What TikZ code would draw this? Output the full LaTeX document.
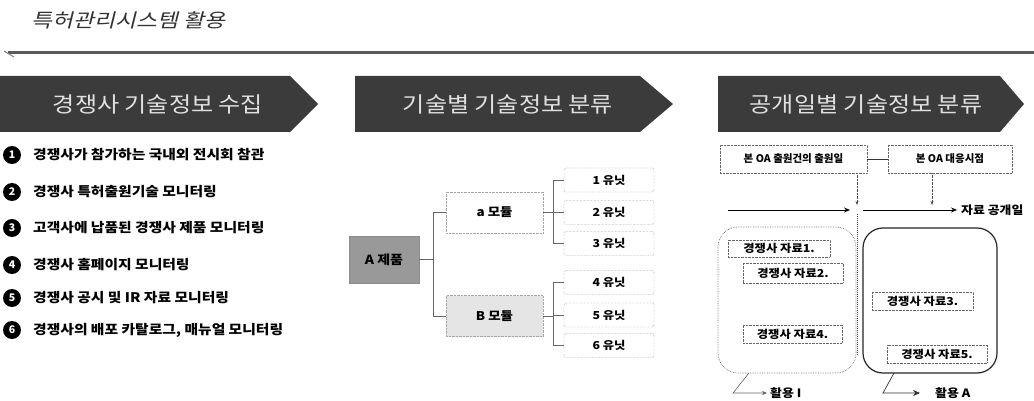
\documentclass[tikz,border=0pt]{standalone}
\usepackage{fontspec}
\setmainfont{Noto Sans CJK KR}
\newfontfamily\cjkit[FakeSlant=0.25,FakeStretch=1.2]{Noto Sans CJK KR}
\newfontfamily\cjkwide[FakeStretch=1.12]{Noto Sans CJK KR}
\usetikzlibrary{arrows.meta,calc}
\tikzset{
  x=1pt,y=-1pt,
  banner/.style={fill=black!77},
  bannertext/.style={text=white!88!black,font=\cjkwide\fontsize{21.5}{21.5}\selectfont,inner sep=0},
  num/.style={circle,fill=black,text=white,minimum size=18pt,inner sep=0,font=\bfseries\fontsize{10.5}{10.5}\selectfont},
  item/.style={anchor=west,inner sep=0,font=\cjkwide\bfseries\fontsize{13.2}{13.2}\selectfont},
  prod/.style={draw=black!45,fill=black!40,minimum width=70pt,minimum height=47pt,inner sep=0,font=\cjkwide\bfseries\fontsize{12.5}{12.5}\selectfont},
  modbox/.style={draw=black!35,densely dotted,minimum width=97pt,minimum height=41pt,inner sep=0,font=\cjkwide\bfseries\fontsize{12}{12}\selectfont},
  unitbox/.style={draw=black!70,densely dotted,rounded corners=2pt,minimum width=90pt,minimum height=24pt,inner sep=0,font=\cjkwide\bfseries\fontsize{11}{11}\selectfont},
  conn/.style={draw=black!60,line width=0.6pt},
  oabox/.style={draw=black!60,densely dotted,minimum height=28pt,inner sep=0,font=\bfseries\fontsize{10.5}{10.5}\selectfont},
  dbox/.style={draw=black!60,densely dotted,minimum width=100pt,minimum height=18pt,inner sep=0,font=\cjkwide\bfseries\fontsize{11}{11}\selectfont},
  lbl/.style={anchor=west,inner sep=0,font=\cjkwide\bfseries\fontsize{11.5}{11.5}\selectfont},
}
\begin{document}
\begin{tikzpicture}
\useasboundingbox (0,0) rectangle (1034,401);
\fill[white] (0,0) rectangle (1034,401);
% title
\node[anchor=west,inner sep=0,text=black!80,font=\cjkit\fontsize{19}{19}\selectfont] (title) at (31,20) {특허관리시스템 활용};
\draw[line width=3pt,black!65] (8,53) -- (1034,53);
\draw[line width=1pt,black!50] (4,51) -- (14,57);
% banners
\fill[banner] (0,76) -- (290,76) -- (318,104) -- (290,132) -- (0,132) -- cycle;
\node[bannertext] (h1) at (158,104) {경쟁사 기술정보 수집};
\fill[banner] (355,76) -- (640,76) -- (673,104) -- (640,132) -- (355,132) -- cycle;
\node[bannertext] (h2) at (508,104) {기술별 기술정보 분류};
\fill[banner] (718,76) -- (1000,76) -- (1024,104) -- (1000,132) -- (718,132) -- cycle;
\node[bannertext] (h3) at (866,104) {공개일별 기술정보 분류};
% list
\foreach \i/\yy/\t in {1/155/경쟁사가 참가하는 국내외 전시회 참관,
  2/192/경쟁사 특허출원기술 모니터링,
  3/228/고객사에 납품된 경쟁사 제품 모니터링,
  4/265/경쟁사 홈페이지 모니터링,
  5/298/경쟁사 공시 및 IR 자료 모니터링,
  6/330/경쟁사의 배포 카탈로그{,} 매뉴얼 모니터링}{
  \node[num] (n\i) at (12,\yy) {\i};
  \node[item] (t\i) at (33,\yy) {\t};
}
% tree
\node[prod] (A) at (384,259.5) {A 제품};
\node[modbox] (ma) at (494.5,212.5) {a 모듈};
\node[modbox,fill=black!10] (mb) at (494.5,316) {B 모듈};
\foreach \i/\yy in {1/180,2/212.5,3/243.5,4/282.5,5/315,6/345.5}{
  \node[unitbox] (u\i) at (609,\yy) {\i\ 유닛};
}
\draw[conn] (A.east) -- ++(14,0) coordinate (ja) |- (ma.west);
\draw[conn] (ja) |- (mb.west);
\draw[conn] (ma.east) -- ++(10,0) coordinate (jb) |- (u1.west);
\draw[conn] (jb) |- (u2.west);
\draw[conn] (jb) |- (u3.west);
\draw[conn] (mb.east) -- ++(10,0) coordinate (jc) |- (u4.west);
\draw[conn] (jc) |- (u5.west);
\draw[conn] (jc) |- (u6.west);
% right section
\node[oabox,minimum width=147pt] (b1) at (793.5,159) {본 OA 출원건의 출원일};
\node[oabox,minimum width=124pt] (b2) at (950,159) {본 OA 대응시점};
\draw[line width=0.8pt,black!80] (b1.east) -- (b2.west);
\coordinate (d1) at (857,205);
\coordinate (d2) at (932,205);
\draw[densely dotted,black!70,-{Stealth[length=4pt,width=3pt]}] (b1.south -| d1) -- (d1);
\draw[densely dotted,black!70,-{Stealth[length=4pt,width=3pt]}] (b2.south -| d2) -- (d2);
\coordinate (p0) at (728,210);
\coordinate (p1) at (850,210);
\coordinate (p2) at (863,210);
\coordinate (p3) at (957,210);
\draw[line width=0.8pt,-{Stealth[length=6pt,width=5pt]}] (p0) -- (p1);
\draw[line width=0.8pt,-{Stealth[length=6pt,width=5pt]}] (p2) -- (p3);
\node[lbl] (pub) at (961,210) {자료 공개일};
\coordinate (v0) at (857,214);
\coordinate (v1) at (857,356);
\draw[densely dotted,line width=1pt,black!70] (v0) -- (v1);
\draw[densely dotted,black!55,line width=0.7pt,rounded corners=20pt] (718,227) rectangle (856,373);
\draw[black!85,line width=1.2pt,rounded corners=20pt] (863,228) rectangle (997,373);
\node[dbox,minimum width=102pt,minimum height=17pt] (s1) at (779,248.5) {경쟁사 자료1.};
\node[dbox,minimum height=20pt] (s2) at (793,273) {경쟁사 자료2.};
\node[dbox,minimum width=99pt] (s4) at (792.5,334) {경쟁사 자료4.};
\node[dbox,minimum width=101pt] (s3) at (922.5,301) {경쟁사 자료3.};
\node[dbox] (s5) at (937,354) {경쟁사 자료5.};
% usage arrows
\coordinate (c1) at (749,373);
\coordinate (c2) at (733,393);
\coordinate (c3) at (767,393);
\draw[black!60,line width=0.6pt,-{Stealth[length=5pt,width=4pt]}] (c1) -- (c2) -- (c3);
\node[lbl] (use1) at (770,393) {활용 I};
\coordinate (e1) at (894,373);
\coordinate (e2) at (883,393);
\coordinate (e3) at (920,393);
\draw[black!80,line width=0.7pt,-{Stealth[length=7pt,width=6pt]}] (e1) -- (e2) -- (e3);
\node[lbl] (use2) at (935,393) {활용 A};
\end{tikzpicture}
\end{document}
